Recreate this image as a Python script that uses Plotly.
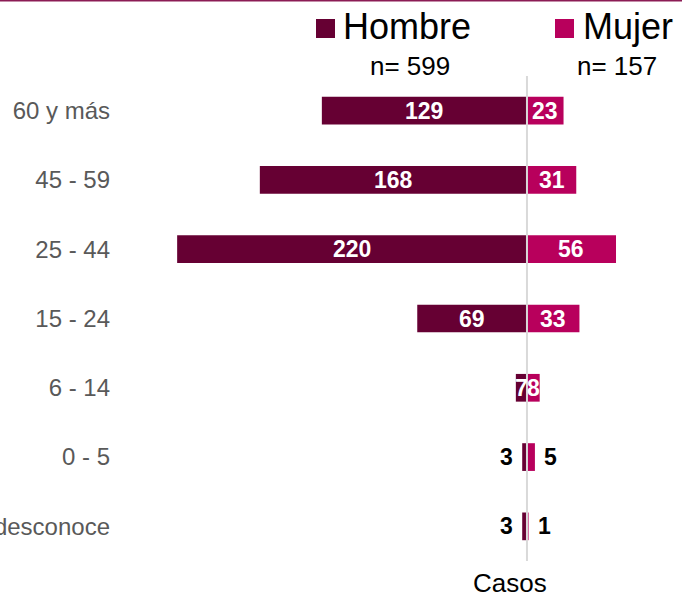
import plotly.graph_objects as go

categorias = ["60 y más", "45 - 59", "25 - 44", "15 - 24", "6 - 14", "0 - 5", "Se desconoce"]
hombre = [129, 168, 220, 69, 7, 3, 3]
mujer = [23, 31, 56, 33, 8, 5, 1]
series = ["Hombre", "Mujer"]
totales = ["n= 599", "n= 157"]
colores = ["#660033", "#B8005C"]

W, H = 682, 597
ML, MR, MT, MB = 111, 0, 76, 36
PW, PH = W - ML - MR, H - MT - MB
XR = [-261.6, 97.5]

def px2x(px):
    return (px - ML) / PW

def py2y(py):
    return 1 - (py - MT) / PH

FONT = "Liberation Sans, Arial, sans-serif"

fig = go.Figure()
fig.add_trace(go.Bar(y=categorias, x=[-v for v in hombre], orientation="h",
                     marker=dict(color=colores[0], line=dict(width=0)), name=series[0],
                     showlegend=False, hoverinfo="skip"))
fig.add_trace(go.Bar(y=categorias, x=mujer, orientation="h",
                     marker=dict(color=colores[1], line=dict(width=0)), name=series[1],
                     showlegend=False, hoverinfo="skip"))

ann = []
for c, h, m in zip(categorias, hombre, mujer):
    if h >= 6:
        ann.append(dict(x=-h / 2, y=c, text=f"<b>{h}</b>", showarrow=False,
                        font=dict(family=FONT, size=23, color="white"), xanchor="center"))
    else:
        ann.append(dict(x=-h, y=c, text=f"<b>{h}</b>", showarrow=False, xshift=-7,
                        font=dict(family=FONT, size=23, color="black"), xanchor="right"))
    if m >= 6:
        ann.append(dict(x=m / 2, y=c, text=f"<b>{m}</b>", showarrow=False,
                        font=dict(family=FONT, size=23, color="white"), xanchor="center"))
    else:
        ann.append(dict(x=m, y=c, text=f"<b>{m}</b>", showarrow=False, xshift=7,
                        font=dict(family=FONT, size=23, color="black"), xanchor="left"))

# Legend (manual)
leg = [(316, 344, 410), (555, 584, 617)]
shapes = []
for (sq, tx, nx), name, tot, col in zip(leg, series, totales, colores):
    shapes.append(dict(type="rect", xref="paper", yref="paper",
                       x0=px2x(sq), x1=px2x(sq + 19), y0=py2y(38), y1=py2y(19),
                       fillcolor=col, line=dict(width=0)))
    ann.append(dict(xref="paper", yref="paper", x=px2x(tx - 3), y=py2y(27), text=name,
                    showarrow=False, xanchor="left", yanchor="middle",
                    font=dict(family=FONT, size=36, color="black")))
    ann.append(dict(xref="paper", yref="paper", x=px2x(nx), y=py2y(66), text=tot,
                    showarrow=False, xanchor="center", yanchor="middle",
                    font=dict(family=FONT, size=26, color="black")))

ann.append(dict(xref="paper", yref="paper", x=px2x(510), y=py2y(583), text="Casos",
                showarrow=False, xanchor="center", yanchor="middle",
                font=dict(family=FONT, size=26, color="black")))

shapes.append(dict(type="line", xref="x", yref="paper", x0=0, x1=0, y0=0, y1=1,
                   line=dict(color="#D9D9D9", width=2), layer="above"))
shapes.append(dict(type="line", xref="paper", yref="paper", x0=px2x(0), x1=px2x(W),
                   y0=py2y(0.5), y1=py2y(0.5), line=dict(color="#8B1C55", width=2)))

fig.update_layout(
    width=W, height=H, barmode="relative", bargap=0.6,
    margin=dict(l=ML, r=MR, t=MT, b=MB, pad=0, autoexpand=False),
    plot_bgcolor="white", paper_bgcolor="white",
    xaxis=dict(range=XR, visible=False, showgrid=False, zeroline=False, fixedrange=True,
               automargin=False),
    yaxis=dict(autorange="reversed", showgrid=False, zeroline=False, showline=False,
               ticks="", automargin=False, fixedrange=True,
               tickfont=dict(family=FONT, size=24, color="#595959")),
    annotations=ann, shapes=shapes, showlegend=False, hovermode=False,
)

fig.write_html("out.html", config={"displayModeBar": False},
               post_script="document.body.style.margin='0';document.body.style.overflow='hidden';")
